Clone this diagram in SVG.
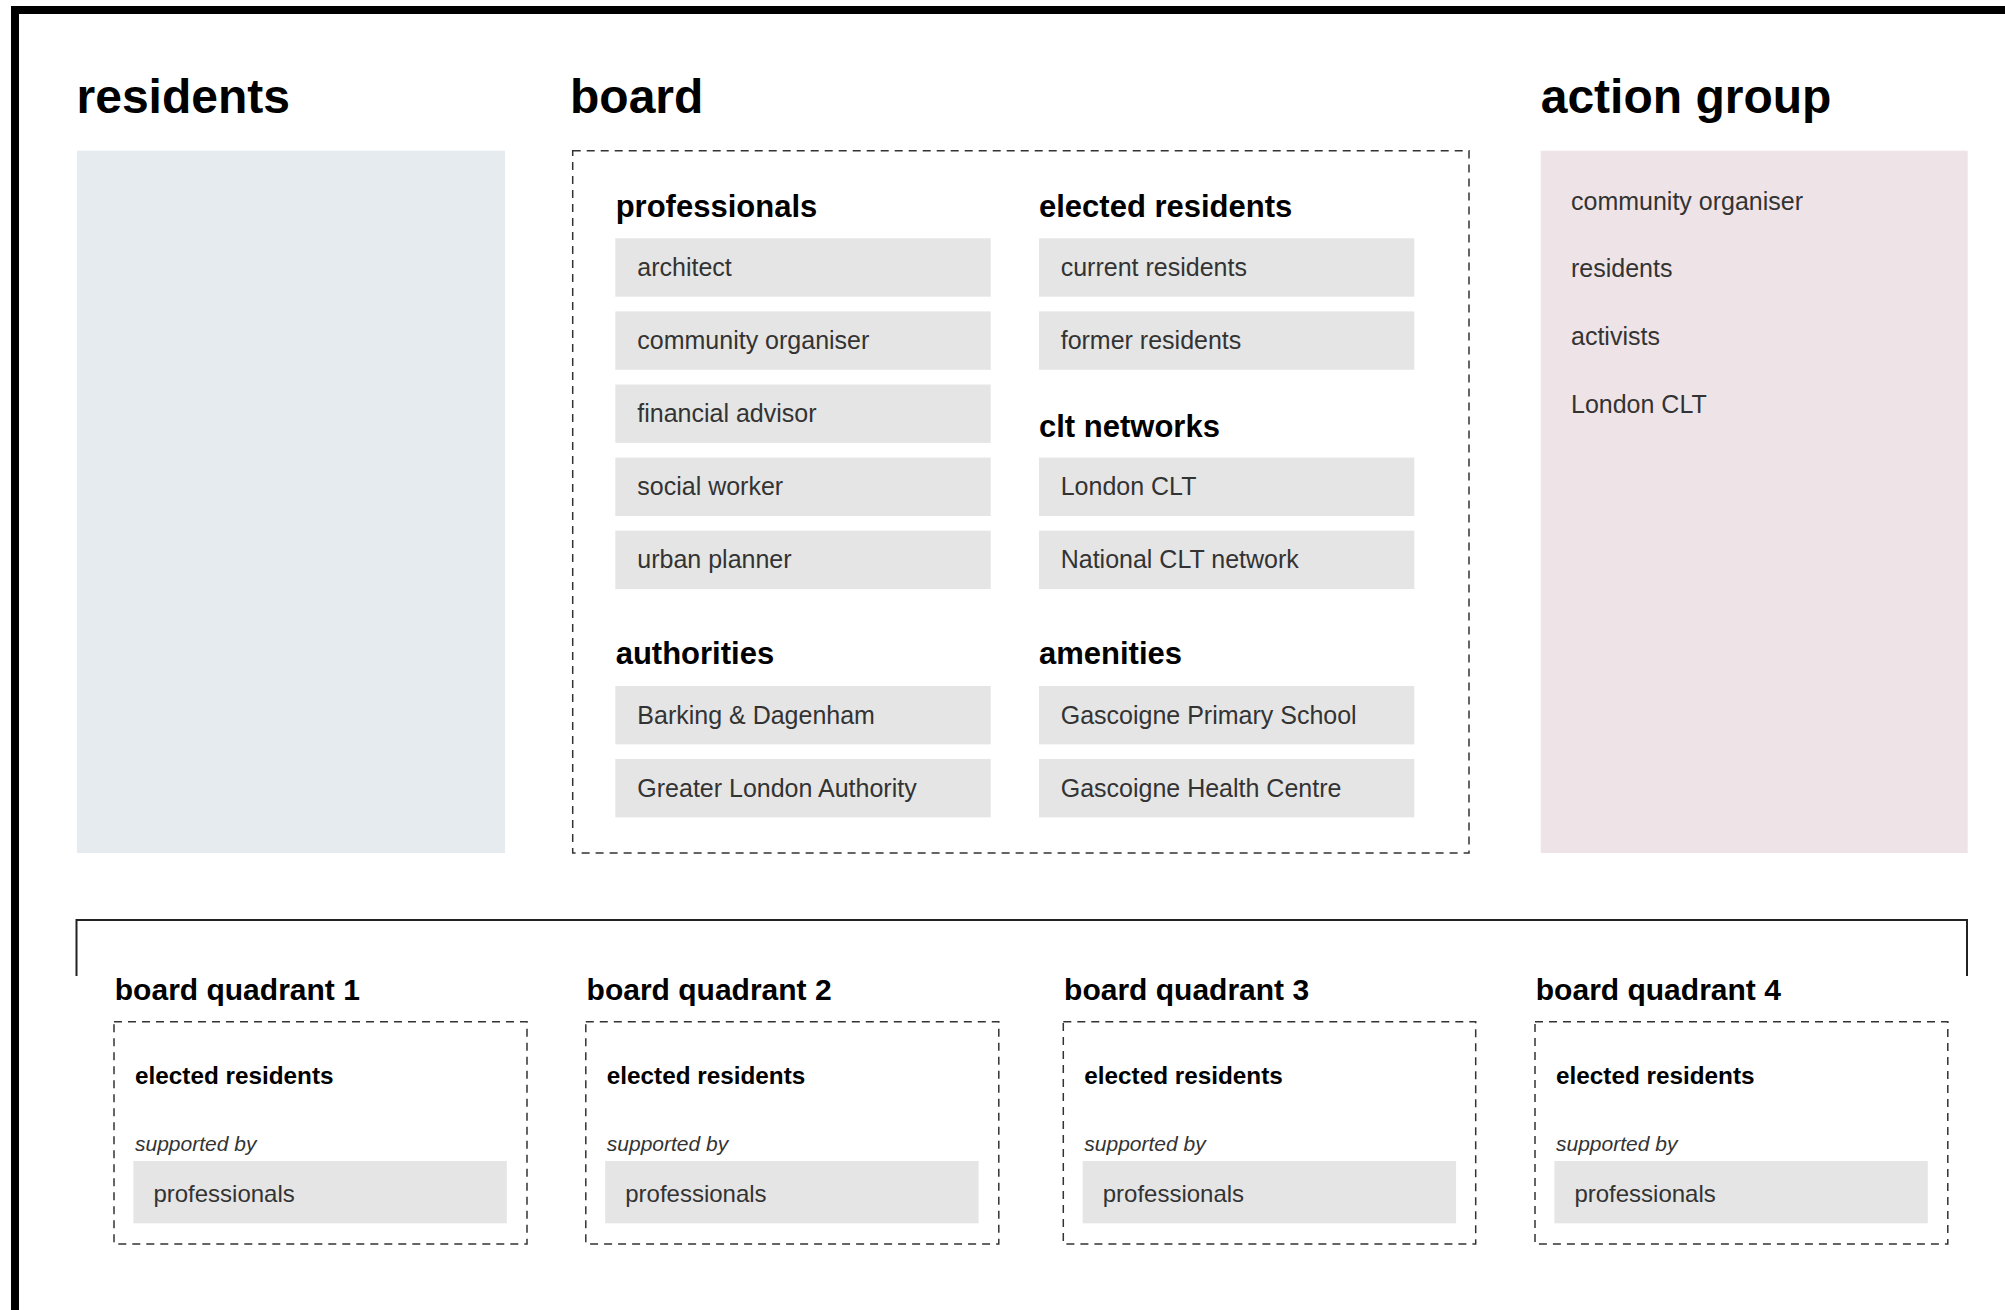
<svg xmlns="http://www.w3.org/2000/svg" width="2005" height="1310" viewBox="0 0 2005 1310">
<style>
.title{font-family:"Liberation Sans",Arial,sans-serif;font-weight:bold;font-size:48px;fill:#000}
.hdr{font-family:"Liberation Sans",Arial,sans-serif;font-weight:bold;font-size:30px;fill:#000}
.bhdr{font-family:"Liberation Sans",Arial,sans-serif;font-weight:bold;font-size:31px;fill:#000}
.sub{font-family:"Liberation Sans",Arial,sans-serif;font-weight:bold;font-size:24.3px;fill:#000}
.item{font-family:"Liberation Sans",Arial,sans-serif;font-size:25px;fill:#333}
.item24{font-family:"Liberation Sans",Arial,sans-serif;font-size:24px;fill:#333}
.ital{font-family:"Liberation Sans",Arial,sans-serif;font-style:italic;font-size:21px;fill:#333}
.box{fill:#e5e5e5}
.dash{fill:none;stroke:#333;stroke-width:1.5;stroke-dasharray:8 6}
</style>
<rect x="0" y="0" width="2005" height="1310" fill="#fff"/>
<path d="M15,1330 V10 H2020" fill="none" stroke="#000" stroke-width="8"/>

<g id="residents">
<text class="title" x="76.5" y="113">residents</text>
<rect x="77" y="150.7" width="428" height="702.3" fill="#e6ebef"/>
</g>

<g id="board">
<text class="title" x="570" y="113">board</text>
<rect class="dash" x="572.7" y="150.7" width="896.3" height="702.3"/>
<g id="board-professionals">
<text class="bhdr" x="615.7" y="217.3">professionals</text>
<rect class="box" x="615.3" y="238.3" width="375.4" height="58.4"/>
<text class="item" x="637.3" y="276">architect</text>
<rect class="box" x="615.3" y="311.4" width="375.4" height="58.4"/>
<text class="item" x="637.3" y="349.1">community organiser</text>
<rect class="box" x="615.3" y="384.5" width="375.4" height="58.4"/>
<text class="item" x="637.3" y="422.2">financial advisor</text>
<rect class="box" x="615.3" y="457.6" width="375.4" height="58.4"/>
<text class="item" x="637.3" y="495.3">social worker</text>
<rect class="box" x="615.3" y="530.7" width="375.4" height="58.4"/>
<text class="item" x="637.3" y="568.4">urban planner</text>
</g>
<g id="board-authorities">
<text class="bhdr" x="615.7" y="663.6">authorities</text>
<rect class="box" x="615.3" y="686" width="375.4" height="58.4"/>
<text class="item" x="637.3" y="723.7">Barking &amp; Dagenham</text>
<rect class="box" x="615.3" y="759" width="375.4" height="58.4"/>
<text class="item" x="637.3" y="796.7">Greater London Authority</text>
</g>
<g id="board-elected">
<text class="bhdr" x="1039" y="217.3">elected residents</text>
<rect class="box" x="1039" y="238.3" width="375.3" height="58.4"/>
<text class="item" x="1060.7" y="276">current residents</text>
<rect class="box" x="1039" y="311.4" width="375.3" height="58.4"/>
<text class="item" x="1060.7" y="349.1">former residents</text>
</g>
<g id="board-clt">
<text class="bhdr" x="1039" y="436.6">clt networks</text>
<rect class="box" x="1039" y="457.6" width="375.3" height="58.4"/>
<text class="item" x="1060.7" y="495.3">London CLT</text>
<rect class="box" x="1039" y="530.7" width="375.3" height="58.4"/>
<text class="item" x="1060.7" y="568.4">National CLT network</text>
</g>
<g id="board-amenities">
<text class="bhdr" x="1039" y="663.6">amenities</text>
<rect class="box" x="1039" y="686" width="375.3" height="58.4"/>
<text class="item" x="1060.7" y="723.7">Gascoigne Primary School</text>
<rect class="box" x="1039" y="759" width="375.3" height="58.4"/>
<text class="item" x="1060.7" y="796.7">Gascoigne Health Centre</text>
</g>
</g>

<g id="action-group">
<text class="title" x="1540.7" y="113">action group</text>
<rect x="1540.7" y="150.7" width="427" height="702.3" fill="#eee4e7"/>
<text class="item" x="1571" y="209.5">community organiser</text>
<text class="item" x="1571" y="277.3">residents</text>
<text class="item" x="1571" y="345.1">activists</text>
<text class="item" x="1571" y="412.9">London CLT</text>
</g>

<g id="connectors">
<path d="M76.5,976 V920 H1967 V976" fill="none" stroke="#222" stroke-width="2"/>
</g>

<g id="quadrant-1" transform="translate(114,0)">
<text class="hdr" x="0.8" y="1000">board quadrant 1</text>
<rect class="dash" x="0" y="1021.7" width="413" height="222.3"/>
<text class="sub" x="21" y="1084">elected residents</text>
<text class="ital" x="21" y="1150.7">supported by</text>
<rect class="box" x="19.4" y="1161" width="373.4" height="62.3"/>
<text class="item24" x="39.4" y="1201.7">professionals</text>
</g>
<g id="quadrant-2" transform="translate(585.8,0)">
<text class="hdr" x="0.8" y="1000">board quadrant 2</text>
<rect class="dash" x="0" y="1021.7" width="413" height="222.3"/>
<text class="sub" x="21" y="1084">elected residents</text>
<text class="ital" x="21" y="1150.7">supported by</text>
<rect class="box" x="19.4" y="1161" width="373.4" height="62.3"/>
<text class="item24" x="39.4" y="1201.7">professionals</text>
</g>
<g id="quadrant-3" transform="translate(1063.3,0)">
<text class="hdr" x="0.8" y="1000">board quadrant 3</text>
<rect class="dash" x="0" y="1021.7" width="412.4" height="222.3"/>
<text class="sub" x="21" y="1084">elected residents</text>
<text class="ital" x="21" y="1150.7">supported by</text>
<rect class="box" x="19.4" y="1161" width="373.4" height="62.3"/>
<text class="item24" x="39.4" y="1201.7">professionals</text>
</g>
<g id="quadrant-4" transform="translate(1535,0)">
<text class="hdr" x="0.8" y="1000">board quadrant 4</text>
<rect class="dash" x="0" y="1021.7" width="412.8" height="222.3"/>
<text class="sub" x="21" y="1084">elected residents</text>
<text class="ital" x="21" y="1150.7">supported by</text>
<rect class="box" x="19.4" y="1161" width="373.4" height="62.3"/>
<text class="item24" x="39.4" y="1201.7">professionals</text>
</g>
</svg>
